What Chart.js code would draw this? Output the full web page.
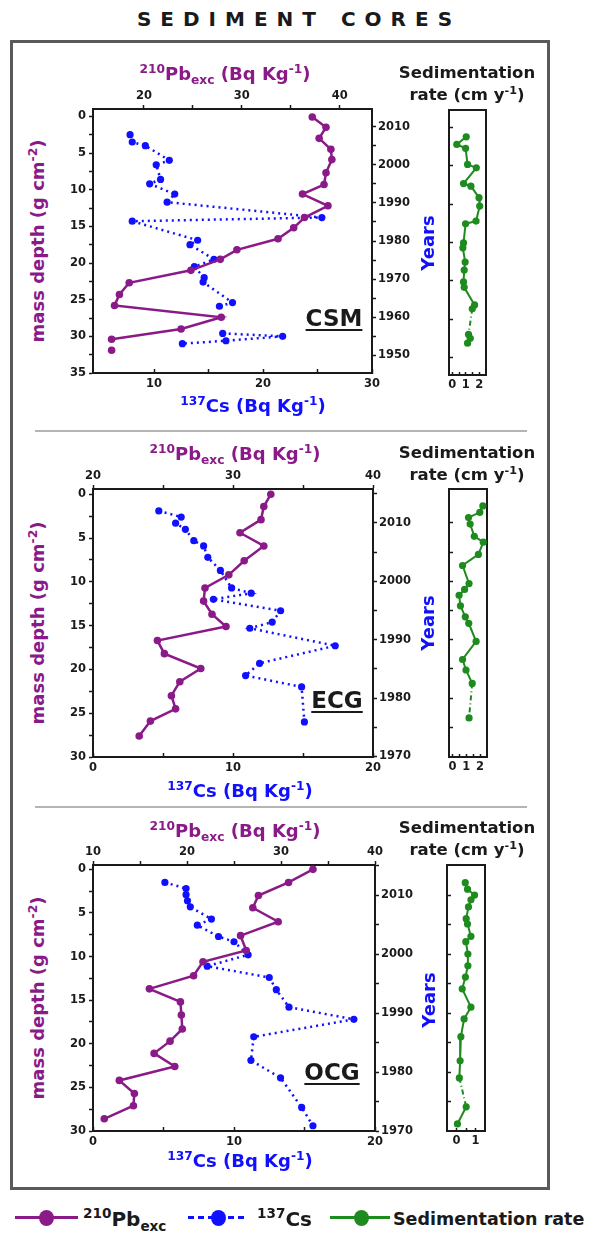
<!DOCTYPE html>
<html>
<head>
<meta charset="utf-8">
<script src="https://cdn.jsdelivr.net/npm/chart.js@4"></script>
<style>
  body { margin: 0; width: 589px; height: 1235px; background: #fff; position: relative; overflow: hidden;
         font-family: "DejaVu Sans", sans-serif; font-weight: bold; color: #1a1a1a; }
  canvas { position: absolute; }
  .c { position: absolute; transform: translate(-50%, -50%); white-space: nowrap; }
  .rot { transform: translate(-50%, -50%) rotate(-90deg); }
  .t { font-size: 18px; }
  .pur { color: #8b1a89; }
  .blu { color: #1010ff; }
  sup, sub { font-size: 0.68em; line-height: 0; }
  .sed { font-size: 16.5px; line-height: 22px; text-align: center; }
  .core { font-size: 23px; text-decoration: underline; text-decoration-thickness: 2px; text-underline-offset: 3px; }
  .frame { position: absolute; left: 10px; top: 40px; width: 540px; height: 1150px; box-sizing: border-box; border: 3px solid #5a5a5a; }
  .sep { position: absolute; left: 35px; width: 492px; height: 2px; background: #b4b4b4; }
  .lg { position: absolute; }
</style>
</head>
<body>
<div class="c" style="left:299px;top:19px;font-size:20px;letter-spacing:9px;">SEDIMENT CORES</div>
<div class="frame"></div>
<div class="sep" style="top:430px"></div>
<div class="sep" style="top:806px"></div>

<canvas id="mainCSM" width="363" height="312" style="left:61px;top:85px"></canvas>
<canvas id="sedCSM" width="57" height="297" style="left:439px;top:100px"></canvas>
<canvas id="mainECG" width="364" height="316" style="left:61px;top:465px"></canvas>
<canvas id="sedECG" width="58" height="300" style="left:439px;top:479px"></canvas>
<canvas id="mainOCG" width="366" height="314" style="left:61px;top:841px"></canvas>
<canvas id="sedOCG" width="58" height="298" style="left:437px;top:855px"></canvas>

<!-- CSM texts -->
<div class="c t pur" style="left:225px;top:73px"><sup>210</sup>Pb<sub>exc</sub> (Bq Kg<sup>-1</sup>)</div>
<div class="c sed" style="left:467px;top:84px">Sedimentation<br>rate (cm y<sup>-1</sup>)</div>
<div class="c t blu" style="left:253px;top:405px"><sup>137</sup>Cs (Bq Kg<sup>-1</sup>)</div>
<div class="c t pur rot" style="left:37px;top:241px">mass depth (g cm<sup>-2</sup>)</div>
<div class="c t blu rot" style="left:427px;top:243px">Years</div>
<div class="c core" style="left:334px;top:318px">CSM</div>

<!-- ECG texts -->
<div class="c t pur" style="left:235px;top:453px"><sup>210</sup>Pb<sub>exc</sub> (Bq Kg<sup>-1</sup>)</div>
<div class="c sed" style="left:467px;top:464px">Sedimentation<br>rate (cm y<sup>-1</sup>)</div>
<div class="c t blu" style="left:240px;top:790px"><sup>137</sup>Cs (Bq Kg<sup>-1</sup>)</div>
<div class="c t pur rot" style="left:37px;top:623px">mass depth (g cm<sup>-2</sup>)</div>
<div class="c t blu rot" style="left:427px;top:623px">Years</div>
<div class="c core" style="left:337px;top:700px">ECG</div>

<!-- OCG texts -->
<div class="c t pur" style="left:235px;top:830px"><sup>210</sup>Pb<sub>exc</sub> (Bq Kg<sup>-1</sup>)</div>
<div class="c sed" style="left:467px;top:839px">Sedimentation<br>rate (cm y<sup>-1</sup>)</div>
<div class="c t blu" style="left:240px;top:1160px"><sup>137</sup>Cs (Bq Kg<sup>-1</sup>)</div>
<div class="c t pur rot" style="left:37px;top:998px">mass depth (g cm<sup>-2</sup>)</div>
<div class="c t blu rot" style="left:428px;top:1000px">Years</div>
<div class="c core" style="left:332px;top:1072px">OCG</div>

<!-- legend -->
<div class="lg" style="left:15px;top:1216px;width:63px;height:3px;background:#8b1a89"></div>
<div class="lg" style="left:39px;top:1210px;width:15px;height:16px;border-radius:50%;background:#8b1a89"></div>
<div class="c" style="left:83px;top:1219px;transform:translate(0,-50%);font-size:20px"><sup>210</sup>Pb<sub>exc</sub></div>
<div class="lg" style="left:188px;top:1216px;width:59px;height:3px;background:repeating-linear-gradient(90deg,#1010ff 0 6px,transparent 6px 10px)"></div>
<div class="lg" style="left:211px;top:1210px;width:15px;height:16px;border-radius:50%;background:#1010ff"></div>
<div class="c" style="left:257px;top:1219px;transform:translate(0,-50%);font-size:20px"><sup>137</sup>Cs</div>
<div class="lg" style="left:330px;top:1216px;width:60px;height:3px;background:#1e8b1e"></div>
<div class="lg" style="left:354px;top:1210px;width:15px;height:16px;border-radius:50%;background:#1e8b1e"></div>
<div class="c" style="left:393px;top:1219px;transform:translate(0,-50%);font-size:17.5px">Sedimentation rate</div>

<script>
// ---- CSM core ----
const pbCSM      = [37.2, 38.6, 37.9, 39.1, 39.2, 38.6, 38.4, 36.2, 38.8, 36.4, 35.3, 33.7, 29.5, 27.8, 24.8, 18.5, 17.5, 17.0, 27.9, 23.8, 16.7, null, 16.7];
const pbDepthCSM = [0.1, 1.5, 3.0, 4.5, 5.9, 7.7, 9.3, 10.6, 12.2, 13.8, 15.2, 16.7, 18.2, 19.5, 21.0, 22.7, 24.3, 25.8, 27.4, 29.0, 30.4, null, 31.9];
const csCSM      = [7.8, 8.0, 9.2, 11.4, 10.2, 10.6, 9.6, 11.9, 11.2, 25.4, 8.0, 14.0, 13.3, 15.5, 13.7, 14.6, 14.5, 17.2, 16.0, null, 16.3, 21.8, 16.6, 12.6];
const csDepthCSM = [2.5, 3.5, 4.0, 6.0, 6.6, 8.6, 9.2, 10.6, 11.7, 13.8, 14.3, 16.9, 17.5, 19.5, 20.5, 22.0, 22.6, 25.4, 25.9, null, 29.6, 30.0, 30.6, 31.0];
const sedYearCSM = [2007.6, 2005.6, 2004.6, 2000.4, 1999.5, 1995.4, 1994.7, 1991.7, 1989.5, 1985.6, 1984.9, 1979.9, 1978.6, 1974.9, 1972.8, 1969.7, 1968.3, 1963.7, 1962.7, 1956.0, 1955.0, 1953.7];
const sedRateCSM = [1.03, 0.33, 0.98, 1.13, 1.78, 0.83, 1.38, 1.98, 2.03, 1.76, 0.98, 0.83, 0.78, 0.95, 0.88, 0.83, 0.88, 1.65, 1.48, 1.2, 1.33, 1.13];

// ---- ECG core ----
const pbECG      = [32.7, 32.2, 32.0, 30.5, 32.2, 30.8, 29.7, 28.0, 27.9, 28.5, 29.5, 24.6, 25.1, 27.7, 26.2, 25.6, 25.9, 24.1, 23.3];
const pbDepthECG = [0.0, 1.4, 2.9, 4.4, 5.9, 7.6, 9.2, 10.7, 12.2, 13.7, 15.1, 16.7, 18.2, 19.9, 21.4, 23.0, 24.5, 25.9, 27.6];
const csECG      = [4.7, 6.3, 5.9, 6.6, 7.2, 7.9, 8.2, 9.1, 9.9, 11.3, 8.6, 13.4, 12.8, 11.2, 17.3, 11.9, 10.9, 14.9, 15.1];
const csDepthECG = [1.9, 2.6, 3.3, 4.0, 5.3, 5.9, 7.2, 8.7, 10.7, 11.3, 12.0, 13.3, 14.6, 15.3, 17.3, 19.3, 20.7, 22.0, 26.0];
const sedYearECG = [2012.9, 2011.8, 2010.9, 2009.8, 2007.7, 2006.7, 2004.6, 2002.7, 1999.6, 1998.6, 1997.6, 1995.8, 1993.9, 1992.8, 1989.7, 1986.6, 1984.8, 1982.5, 1976.6];
const sedRateECG = [2.2, 1.98, 1.16, 1.28, 1.58, 2.23, 1.88, 0.73, 1.2, 0.88, 0.48, 0.58, 0.93, 1.18, 1.71, 0.73, 0.98, 1.43, 1.2];

// ---- OCG core ----
const pbOCG      = [33.4, 30.8, 27.6, 27.0, 29.7, 25.7, 26.3, 21.7, 20.7, 16.0, 19.3, 19.4, 19.5, 18.2, 16.5, 18.7, 12.8, 14.4, 14.3, 11.2];
const pbDepthOCG = [0.0, 1.5, 3.0, 4.4, 6.0, 7.6, 9.3, 10.6, 12.2, 13.7, 15.2, 16.7, 18.3, 19.7, 21.1, 22.6, 24.2, 25.7, 27.1, 28.6];
const csOCG      = [5.1, 6.6, 6.6, 6.7, 6.9, 8.4, 7.4, 8.9, 10.0, 11.0, 8.1, 12.5, 13.0, 13.9, 18.5, 11.4, 11.2, 13.3, 14.8, 15.6];
const csDepthOCG = [1.5, 2.2, 2.9, 3.6, 4.3, 5.7, 6.4, 7.7, 8.3, 9.8, 11.1, 12.4, 13.8, 15.8, 17.2, 19.2, 21.9, 23.9, 27.3, 29.4];
const sedYearOCG = [2012.1, 2011.0, 2010.0, 2009.2, 2008.0, 2006.0, 2005.1, 2003.0, 2002.1, 2000.0, 1998.0, 1996.1, 1994.1, 1991.0, 1989.0, 1986.0, 1981.9, 1979.0, 1974.1, 1971.2];
const sedRateOCG = [0.46, 0.58, 0.95, 0.76, 0.63, 0.51, 0.58, 0.76, 0.49, 0.6, 0.6, 0.47, 0.3, 0.76, 0.4, 0.23, 0.19, 0.15, 0.51, 0.05];

// tick values / labels
const pbTicksCSM = [20, 25, 30, 35, 40],  pbLabelsCSM = [20, 30, 40];
const csTicksCSM = [10, 15, 20, 25, 30],  csLabelsCSM = [10, 20, 30];
const pbTicksECG = [20, 25, 30, 35, 40],  pbLabelsECG = [20, 30, 40];
const pbTicksOCG = [10, 15, 20, 25, 30, 35, 40], pbLabelsOCG = [10, 20, 30, 40];
const csTicks20  = [0, 5, 10, 15, 20],    csLabels20  = [0, 10, 20];
const depthTicks35 = [0, 2.5, 5, 7.5, 10, 12.5, 15, 17.5, 20, 22.5, 25, 27.5, 30, 32.5, 35];
const depthLabels35 = [0, 5, 10, 15, 20, 25, 30, 35];
const depthTicks30 = [0, 2.5, 5, 7.5, 10, 12.5, 15, 17.5, 20, 22.5, 25, 27.5, 30];
const depthLabels30 = [0, 5, 10, 15, 20, 25, 30];
const yearTicksCSM = [1950, 1955, 1960, 1965, 1970, 1975, 1980, 1985, 1990, 1995, 2000, 2005, 2010];
const yearLabelsCSM = [1950, 1960, 1970, 1980, 1990, 2000, 2010];
const yearTicks70 = [1970, 1975, 1980, 1985, 1990, 1995, 2000, 2005, 2010, 2015];
const yearLabels70 = [1970, 1980, 1990, 2000, 2010];
const sedYearTicksCSM = [1950, 1960, 1970, 1980, 1990, 2000, 2010];
const sedYearTicks70 = [1975, 1980, 1985, 1990, 1995, 2000, 2005, 2010];
const rateTicks2 = [0, 0.5, 1, 1.5, 2], rateLabels2 = [0, 1, 2];
const rateTicks1 = [0, 0.5, 1],         rateLabels1 = [0, 1];

const PURPLE = '#8b1a89', BLUE = '#1010ff', GREEN = '#1e8b1e', INK = '#1a1a1a';

Chart.defaults.font.family = '"DejaVu Sans", sans-serif';
Chart.defaults.font.weight = 'bold';
Chart.defaults.font.size = 11.5;
Chart.defaults.color = INK;

function pts(xs, ys) {
  return xs.map((x, i) => ({ x: x, y: ys[i] }));
}

function axis(pos, min, max, ticks, labels, o) {
  return {
    type: 'linear', position: pos, min: min, max: max, reverse: !!o.reverse,
    afterFit: s => { if (s.isHorizontal()) s.height = o.size; else s.width = o.size; },
    afterBuildTicks: s => { s.ticks = ticks.map(v => ({ value: v })); },
    ticks: {
      display: !!labels, autoSkip: false, maxRotation: 0, padding: o.pad,
      callback: v => (labels && labels.indexOf(v) >= 0) ? String(v) : ''
    },
    grid: { display: ticks.length > 0, drawOnChartArea: false, drawTicks: true, tickLength: o.tick,
            tickColor: INK, tickWidth: 1.5 },
    border: { display: true, color: INK, width: 2 }
  };
}

const base = {
  responsive: false, animation: false, devicePixelRatio: 1,
  plugins: { legend: { display: false }, tooltip: { enabled: false } },
  layout: { padding: 0 },
  elements: { line: { tension: 0 } }
};

function coreChart(id, d) {
  new Chart(document.getElementById(id), {
    type: 'line',
    data: {
      datasets: [
        { data: pts(d.pb, d.pbDepth), xAxisID: 'xPb', yAxisID: 'yD', borderColor: PURPLE, backgroundColor: PURPLE,
          borderWidth: 2.5, pointRadius: 3.8, pointBorderWidth: 0, clip: false },
        { data: pts(d.cs, d.csDepth), xAxisID: 'xCs', yAxisID: 'yD', borderColor: BLUE, backgroundColor: BLUE,
          borderWidth: 2.5, borderDash: [2, 4], pointRadius: 3.6, pointBorderWidth: 0, clip: false }
      ]
    },
    options: Object.assign({}, base, {
      scales: {
        xPb: axis('top', d.pbMin, d.pbMax, d.pbTicks, d.pbLabels, { size: 24, tick: 4, pad: 2 }),
        xCs: axis('bottom', d.csMin, d.csMax, d.csTicks, d.csLabels, { size: 24, tick: -4, pad: 8 }),
        yD: axis('left', d.dMin, d.dMax, d.dTicks, d.dLabels, { size: 32, tick: 4, pad: 3, reverse: true }),
        yY: axis('right', d.yMin, d.yMax, d.yTicks, d.yLabels, { size: 52, tick: 4, pad: 2 })
      }
    })
  });
}

function sedChart(id, d) {
  new Chart(document.getElementById(id), {
    type: 'line',
    data: {
      datasets: [
        { data: pts(d.rate, d.year), xAxisID: 'x', yAxisID: 'y', borderColor: GREEN, backgroundColor: GREEN,
          borderWidth: 2, pointRadius: 3.6, pointBorderWidth: 0, clip: false,
          segment: { borderDash: c => d.dashed.indexOf(c.p0DataIndex) >= 0 ? [5, 3, 1, 3] : undefined } }
      ]
    },
    options: Object.assign({}, base, {
      scales: {
        x: axis('bottom', d.rMin, d.rMax, d.rTicks, d.rLabels, { size: 22, tick: -3, pad: 6 }),
        xT: axis('top', 0, 1, [], null, { size: 10, tick: 0, pad: 0 }),
        y: axis('left', d.yMin, d.yMax, d.yTicks, null, { size: 10, tick: -4, pad: 0 }),
        yR: axis('right', 0, 1, [], null, { size: 10, tick: 0, pad: 0 })
      }
    })
  });
}

coreChart('mainCSM', {
  pb: pbCSM, pbDepth: pbDepthCSM, cs: csCSM, csDepth: csDepthCSM,
  pbMin: 14.8, pbMax: 43.3, pbTicks: pbTicksCSM, pbLabels: pbLabelsCSM,
  csMin: 4.4, csMax: 30, csTicks: csTicksCSM, csLabels: csLabelsCSM,
  dMin: -1, dMax: 35, dTicks: depthTicks35, dLabels: depthLabels35,
  yMin: 1945.4, yMax: 2014.6, yTicks: yearTicksCSM, yLabels: yearLabelsCSM
});
sedChart('sedCSM', {
  rate: sedRateCSM, year: sedYearCSM, dashed: [18],
  rMin: -0.25, rMax: 2.5, rTicks: rateTicks2, rLabels: rateLabels2,
  yMin: 1945.4, yMax: 2014.6, yTicks: sedYearTicksCSM
});

coreChart('mainECG', {
  pb: pbECG, pbDepth: pbDepthECG, cs: csECG, csDepth: csDepthECG,
  pbMin: 20, pbMax: 40, pbTicks: pbTicksECG, pbLabels: pbLabelsECG,
  csMin: 0, csMax: 20, csTicks: csTicks20, csLabels: csLabels20,
  dMin: -0.6, dMax: 30, dTicks: depthTicks30, dLabels: depthLabels30,
  yMin: 1969.9, yMax: 2015.8, yTicks: yearTicks70, yLabels: yearLabels70
});
sedChart('sedECG', {
  rate: sedRateECG, year: sedYearECG, dashed: [17],
  rMin: -0.25, rMax: 2.5, rTicks: rateTicks2, rLabels: rateLabels2,
  yMin: 1969.9, yMax: 2015.8, yTicks: sedYearTicks70
});

coreChart('mainOCG', {
  pb: pbOCG, pbDepth: pbDepthOCG, cs: csOCG, csDepth: csDepthOCG,
  pbMin: 10, pbMax: 40, pbTicks: pbTicksOCG, pbLabels: pbLabelsOCG,
  csMin: 0, csMax: 20, csTicks: csTicks20, csLabels: csLabels20,
  dMin: -0.5, dMax: 30, dTicks: depthTicks30, dLabels: depthLabels30,
  yMin: 1970, yMax: 2015.1, yTicks: yearTicks70, yLabels: yearLabels70
});
sedChart('sedOCG', {
  rate: sedRateOCG, year: sedYearOCG, dashed: [17],
  rMin: -0.5, rMax: 1.5, rTicks: rateTicks1, rLabels: rateLabels1,
  yMin: 1970, yMax: 2015.1, yTicks: sedYearTicks70
});
</script>
</body>
</html>
